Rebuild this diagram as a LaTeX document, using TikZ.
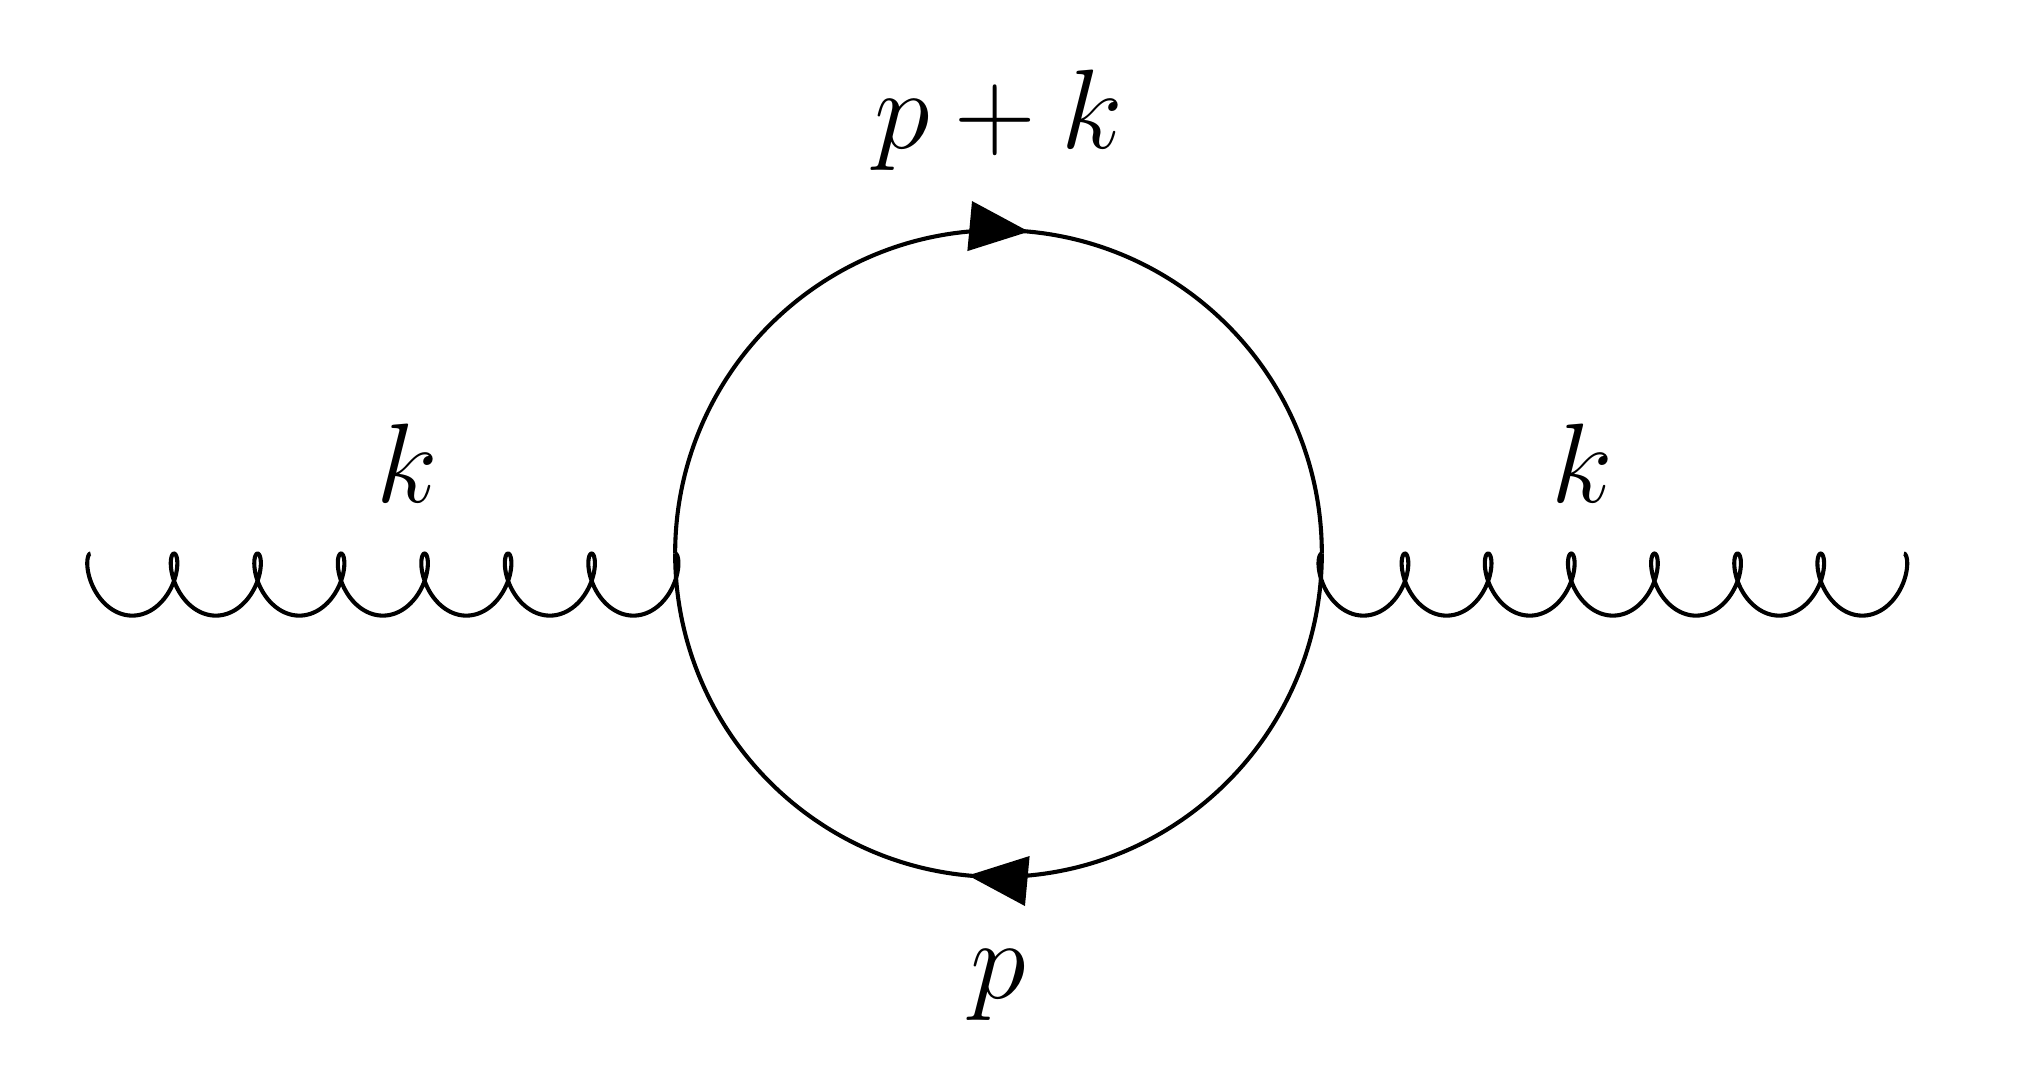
\documentclass[tikz,border=0pt]{standalone}
\usetikzlibrary{decorations.markings,arrows.meta}
\begin{document}
\begin{tikzpicture}[
  line width=0.9pt,
  fermion/.style={postaction={decorate},decoration={markings,mark=at position 0.53 with {\arrow{Triangle[length=0.46cm,width=0.38cm]}}}},
  lbl/.style={font=\fontsize{26}{30}\selectfont}
]
\useasboundingbox (0,0) rectangle (15.68,-8.44);
\coordinate (c) at (7.72,-4.25);
\coordinate (vl) at (5.22,-4.28);
\coordinate (vr) at (10.22,-4.28);
\coordinate (el) at (0.70,-4.28);
\coordinate (er) at (14.72,-4.28);
\draw[fermion] (vl) arc[start angle=180,end angle=0,radius=2.5];
\draw[fermion] (vr) arc[start angle=0,end angle=-180,radius=2.5];
\draw plot[domain=0:2520,samples=500,smooth] ({0.70+0.6457*\x/360-0.15*sin(\x)},{-4.28-0.24*(1-cos(\x))});
\draw plot[domain=0:2520,samples=500,smooth] ({10.22+0.6429*\x/360-0.15*sin(\x)},{-4.28-0.24*(1-cos(\x))});
\node[lbl] (t) at (7.72,-0.93) {$p+k$};
\node[lbl] (b) at (7.72,-7.62) {$p$};
\node[lbl] (kl) at (3.15,-3.58) {$k$};
\node[lbl] (kr) at (12.23,-3.58) {$k$};
\end{tikzpicture}
\end{document}
